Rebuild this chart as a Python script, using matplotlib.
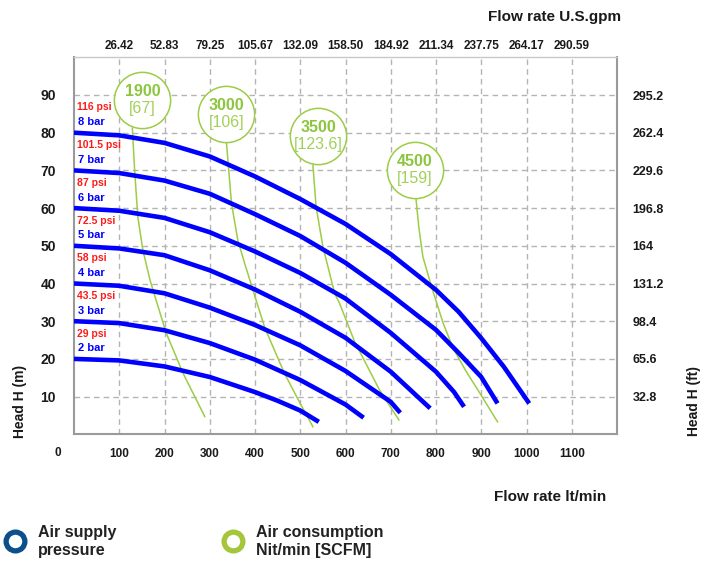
import numpy as np
import matplotlib
matplotlib.use('Agg')
import matplotlib.pyplot as plt

plt.rcParams['font.family'] = ['Liberation Sans', 'DejaVu Sans']

# pump curves, flow lt/min vs head m
bars = [8, 7, 6, 5, 4, 3, 2]
psi = ['116 psi', '101.5 psi', '87 psi', '72.5 psi', '58 psi', '43.5 psi', '29 psi']
curveQ = [
    [0, 100, 200, 300, 400, 500, 600, 700, 800, 850, 900, 950, 1006],
    [0, 100, 200, 300, 400, 500, 600, 700, 800, 850, 900, 936],
    [0, 100, 200, 300, 400, 500, 600, 700, 800, 840, 862],
    [0, 100, 200, 300, 400, 500, 600, 700, 787],
    [0, 100, 200, 300, 400, 500, 600, 700, 721],
    [0, 100, 200, 300, 400, 500, 600, 640],
    [0, 100, 200, 300, 400, 450, 500, 541],
]
curveH = [
    [80, 79.3, 77.3, 73.7, 68.4, 62.4, 55.8, 47.8, 38.3, 32.5, 25.5, 17.9, 8.2],
    [70, 69.3, 67.3, 63.8, 58.4, 52.6, 45.5, 37.0, 27.7, 21.6, 15.2, 8.2],
    [60, 59.3, 57.4, 53.6, 48.5, 42.8, 36.0, 26.9, 16.6, 11.2, 7.3],
    [50, 49.3, 47.5, 43.5, 38.4, 32.5, 25.6, 16.6, 6.9],
    [40, 39.4, 37.4, 33.6, 29.0, 23.6, 16.8, 8.6, 5.7],
    [30, 29.5, 27.6, 24.2, 19.8, 14.4, 7.9, 4.4],
    [20, 19.6, 18.0, 15.2, 11.2, 8.9, 6.3, 3.3],
]

# air consumption lines
airTop = ['1900', '3000', '3500', '4500']
airBot = ['[67]', '[106]', '[123.6]', '[159]']
circQ = [151, 337, 540, 753]
circH = [88.7, 84.9, 79.0, 70.0]
airQ = [
    [129, 134, 141, 152, 168, 186, 204, 241, 289],
    [337, 342, 348, 362, 377, 400, 421, 444, 465, 498, 528],
    [528, 535, 550, 576, 587, 620, 675, 718],
    [756, 762, 771, 791, 816, 838, 866, 897, 936],
]
airH = [
    [81.2, 70, 57.7, 49, 40.9, 33.8, 26.8, 16.2, 4.7],
    [77.3, 70, 61.3, 51.5, 45.4, 36.5, 28.5, 22, 16.2, 8.6, 2.0],
    [71.4, 60.4, 49.8, 37.4, 34.7, 24.6, 11.8, 3.8],
    [62.2, 55, 47.1, 38.8, 29.4, 22.8, 16.8, 10.9, 3.3],
]

lpmTicks = [100, 200, 300, 400, 500, 600, 700, 800, 900, 1000, 1100]
gpmLabels = ['26.42', '52.83', '79.25', '105.67', '132.09', '158.50', '184.92',
             '211.34', '237.75', '264.17', '290.59']
mTicks = [10, 20, 30, 40, 50, 60, 70, 80, 90]
ftLabels = ['32.8', '65.6', '98.4', '131.2', '164', '196.8', '229.6', '262.4', '295.2']

blue = '#0000ff'
green = '#9dcc45'
greenText = '#8cc63f'
txt = '#1a1a1a'

W, H = 707, 562
fig = plt.figure(figsize=(W / 100, H / 100), dpi=100)
ax = fig.add_axes([74 / W, (H - 434.3) / H, (617 - 74) / W, (434.3 - 57.3) / H])
ax.set_xlim(0, 1200)
ax.set_ylim(0, 100)

for x in lpmTicks:
    ax.axvline(x, color='#b4b4b4', lw=1, dashes=(4, 3), zorder=1)
for y in mTicks:
    ax.axhline(y, color='#b4b4b4', lw=1, dashes=(4, 3), zorder=1)

for s in ax.spines.values():
    s.set_color('#9a9a9a')
    s.set_linewidth(1.5)
ax.spines['top'].set_color('#c8c8c8')
ax.spines['top'].set_linewidth(1)

# green air lines under the pump curves
for q, h in zip(airQ, airH):
    ax.plot(q, h, color=green, lw=1.1, zorder=2)

for q, h in zip(curveQ, curveH):
    ax.plot(q, h, color=blue, lw=3.3, solid_capstyle='butt', solid_joinstyle='round', zorder=3)

# pressure labels at the left of each curve
for i in range(len(bars)):
    h0 = curveH[i][0]
    ax.text(6, h0 + 6.7, psi[i], color='#ff1a1a', fontsize=7.5, fontweight='bold',
            va='center', ha='left', zorder=4)
    ax.text(8, h0 + 2.8, str(bars[i]) + ' bar', color=blue, fontsize=8, fontweight='bold',
            va='center', ha='left', zorder=4)

# consumption circles
for i in range(len(airTop)):
    ax.plot(circQ[i], circH[i], 'o', ms=40.5, mfc='white', mec=green, mew=1.1, zorder=5)
    ax.annotate(airTop[i], (circQ[i], circH[i]), xytext=(0, 6.3), textcoords='offset points',
                ha='center', va='center', color=greenText, fontsize=11.5, fontweight='bold', zorder=6)
    ax.annotate(airBot[i], (circQ[i], circH[i]), xytext=(0, -6.0), textcoords='offset points',
                ha='center', va='center', color='#a3d05a', fontsize=11.5, zorder=6)

# bottom axis
ax.set_xticks(lpmTicks)
ax.set_xticklabels([str(v) for v in lpmTicks], fontsize=8.5, fontweight='bold', color=txt)
ax.tick_params(axis='x', length=0, pad=10)
ax.text(-35, -5.0, '0', fontsize=8.5, fontweight='bold', color=txt, ha='center', va='center',
        clip_on=False)

# left axis
ax.set_yticks(mTicks)
ax.set_yticklabels([str(v) for v in mTicks], fontsize=10, fontweight='bold', color=txt)
ax.tick_params(axis='y', length=0, pad=13)

# top axis (U.S. gpm)
top = ax.secondary_xaxis('top')
top.set_xticks(lpmTicks)
top.set_xticklabels(gpmLabels, fontsize=8.5, fontweight='bold', color=txt)
top.tick_params(length=0, pad=4)
top.spines['top'].set_visible(False)

# right axis (ft)
right = ax.secondary_yaxis('right')
right.set_yticks(mTicks)
right.set_yticklabels(ftLabels, fontsize=9, fontweight='bold', color=txt)
right.tick_params(length=0, pad=11)
right.spines['right'].set_visible(False)

fig.text(621 / W, 1 - 17 / H, 'Flow rate U.S.gpm', fontsize=11, fontweight='bold',
         color=txt, ha='right', va='center')
fig.text(606 / W, 1 - 497 / H, 'Flow rate lt/min', fontsize=11, fontweight='bold',
         color=txt, ha='right', va='center')
fig.text(20 / W, 1 - 438 / H, 'Head H (m)', fontsize=10, fontweight='bold', color=txt,
         rotation=90, ha='center', va='bottom')
fig.text(694 / W, 1 - 436 / H, 'Head H (ft)', fontsize=10, fontweight='bold', color=txt,
         rotation=90, ha='center', va='bottom')

# legend at the bottom
leg = fig.add_axes([0, 0, 1, 1], facecolor='none')
leg.set_xlim(0, W)
leg.set_ylim(H, 0)
leg.axis('off')
leg.plot(15, 541, 'o', ms=13.5, mfc='none', mec='#0d4f8b', mew=3.8)
leg.plot(233, 541, 'o', ms=13.5, mfc='none', mec='#a5c63b', mew=3.8)
leg.text(38, 541, 'Air supply\npressure', fontsize=11.5, fontweight='bold', color='#222222',
         ha='left', va='center', linespacing=1.25)
leg.text(256, 541, 'Air consumption\nNit/min [SCFM]', fontsize=11.5, fontweight='bold',
         color='#222222', ha='left', va='center', linespacing=1.25)

fig.savefig('out.png', dpi=100)
